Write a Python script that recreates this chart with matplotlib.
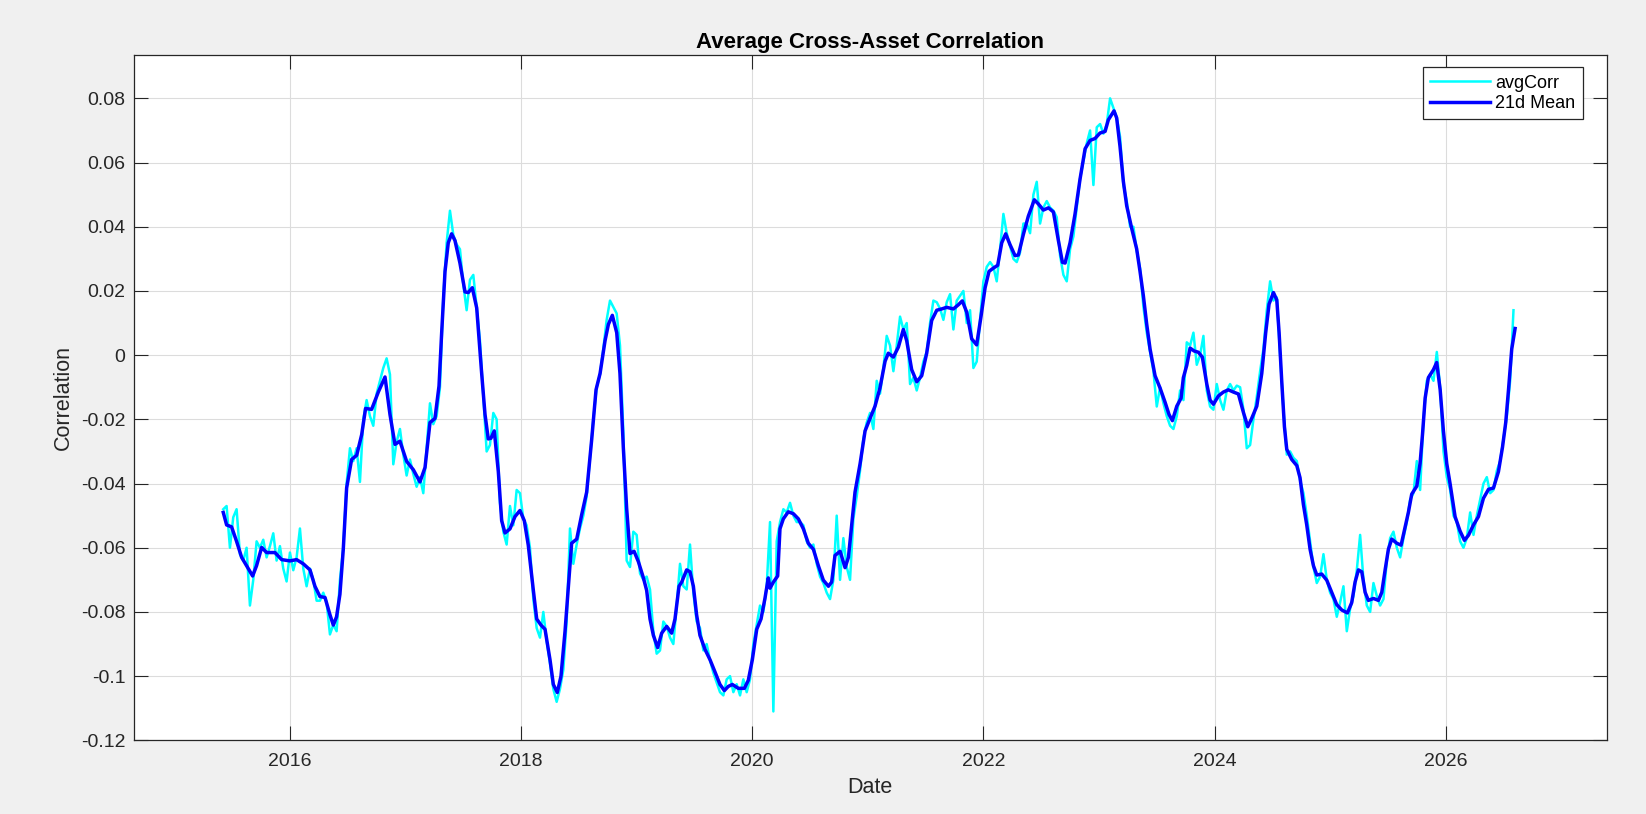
import matplotlib.pyplot as plt
import numpy as np

# 21d mean, (decimal year, value)
mean_pts = [
    (2015.425, -0.0490), (2015.454, -0.0529), (2015.497, -0.0535), (2015.540, -0.0580),
    (2015.584, -0.0630), (2015.627, -0.0656), (2015.679, -0.0688), (2015.713, -0.0656),
    (2015.757, -0.0599), (2015.800, -0.0615), (2015.872, -0.0615), (2015.930, -0.0637),
    (2016.002, -0.0641), (2016.059, -0.0637), (2016.117, -0.0650), (2016.175, -0.0669),
    (2016.218, -0.0720), (2016.261, -0.0752), (2016.305, -0.0755), (2016.348, -0.0809),
    (2016.377, -0.0841), (2016.405, -0.0815), (2016.434, -0.0745), (2016.463, -0.0605),
    (2016.492, -0.0414), (2016.535, -0.0325), (2016.579, -0.0312), (2016.622, -0.0248),
    (2016.656, -0.0166), (2016.708, -0.0169), (2016.766, -0.0115), (2016.824, -0.0068),
    (2016.867, -0.0185), (2016.910, -0.0278), (2016.953, -0.0268), (2017.011, -0.0331),
    (2017.069, -0.0357), (2017.126, -0.0395), (2017.170, -0.0350), (2017.213, -0.0210),
    (2017.256, -0.0197), (2017.291, -0.0096), (2017.314, 0.0070), (2017.343, 0.0261),
    (2017.371, 0.0350), (2017.400, 0.0378), (2017.429, 0.0357), (2017.472, 0.0287),
    (2017.516, 0.0197), (2017.544, 0.0195), (2017.579, 0.0210), (2017.617, 0.0147),
    (2017.660, -0.0057), (2017.689, -0.0185), (2017.717, -0.0261), (2017.740, -0.0259),
    (2017.769, -0.0236), (2017.804, -0.0363), (2017.833, -0.0516), (2017.862, -0.0554),
    (2017.905, -0.0541), (2017.948, -0.0503), (2017.991, -0.0484), (2018.029, -0.0516),
    (2018.063, -0.0592), (2018.107, -0.0733), (2018.136, -0.0822), (2018.173, -0.0841),
    (2018.208, -0.0854), (2018.251, -0.0949), (2018.280, -0.1026), (2018.314, -0.1051),
    (2018.346, -0.1000), (2018.381, -0.0860), (2018.410, -0.0720), (2018.438, -0.0586),
    (2018.482, -0.0573), (2018.525, -0.0497), (2018.568, -0.0427), (2018.612, -0.0261),
    (2018.649, -0.0108), (2018.684, -0.0057), (2018.727, 0.0045), (2018.756, 0.0096),
    (2018.790, 0.0124), (2018.828, 0.0070), (2018.856, -0.0057), (2018.885, -0.0287),
    (2018.914, -0.0478), (2018.943, -0.0618), (2018.978, -0.0611), (2019.015, -0.0643),
    (2019.059, -0.0694), (2019.087, -0.0733), (2019.116, -0.0822), (2019.145, -0.0873),
    (2019.182, -0.0911), (2019.217, -0.0866), (2019.260, -0.0845), (2019.303, -0.0866),
    (2019.332, -0.0822), (2019.367, -0.0720), (2019.390, -0.0707), (2019.433, -0.0669),
    (2019.462, -0.0675), (2019.491, -0.0720), (2019.519, -0.0809), (2019.548, -0.0873),
    (2019.592, -0.0917), (2019.635, -0.0949), (2019.678, -0.0987), (2019.721, -0.1026),
    (2019.759, -0.1045), (2019.793, -0.1032), (2019.828, -0.1026), (2019.880, -0.1038),
    (2019.932, -0.1038), (2019.966, -0.1013), (2020.001, -0.0949), (2020.039, -0.0854),
    (2020.076, -0.0822), (2020.110, -0.0758), (2020.139, -0.0694), (2020.154, -0.0726),
    (2020.183, -0.0707), (2020.220, -0.0688), (2020.240, -0.0541), (2020.269, -0.0510),
    (2020.312, -0.0488), (2020.356, -0.0494), (2020.399, -0.0510), (2020.442, -0.0541),
    (2020.485, -0.0586), (2020.529, -0.0605), (2020.572, -0.0656), (2020.615, -0.0701),
    (2020.659, -0.0720), (2020.687, -0.0707), (2020.716, -0.0624), (2020.760, -0.0611),
    (2020.803, -0.0662), (2020.832, -0.0630), (2020.860, -0.0529), (2020.889, -0.0427),
    (2020.933, -0.0338), (2020.976, -0.0236), (2021.019, -0.0197), (2021.062, -0.0159),
    (2021.105, -0.0102), (2021.149, -0.0019), (2021.177, 0.0006), (2021.221, -0.0006),
    (2021.264, 0.0025), (2021.307, 0.0080), (2021.336, 0.0045), (2021.379, -0.0045),
    (2021.423, -0.0083), (2021.466, -0.0064), (2021.509, 0.0006), (2021.552, 0.0108),
    (2021.596, 0.0140), (2021.639, 0.0144), (2021.682, 0.0149), (2021.740, 0.0144),
    (2021.783, 0.0157), (2021.817, 0.0169), (2021.855, 0.0134), (2021.898, 0.0051),
    (2021.941, 0.0032), (2021.979, 0.0121), (2022.014, 0.0210), (2022.048, 0.0261),
    (2022.085, 0.0271), (2022.123, 0.0280), (2022.158, 0.0350), (2022.192, 0.0378),
    (2022.230, 0.0344), (2022.273, 0.0310), (2022.302, 0.0312), (2022.345, 0.0376),
    (2022.388, 0.0433), (2022.440, 0.0484), (2022.475, 0.0471), (2022.518, 0.0452),
    (2022.562, 0.0459), (2022.605, 0.0446), (2022.648, 0.0357), (2022.683, 0.0289),
    (2022.706, 0.0287), (2022.749, 0.0350), (2022.792, 0.0440), (2022.835, 0.0548),
    (2022.879, 0.0643), (2022.922, 0.0669), (2022.965, 0.0675), (2023.008, 0.0692),
    (2023.052, 0.0697), (2023.080, 0.0733), (2023.129, 0.0761), (2023.152, 0.0739),
    (2023.181, 0.0650), (2023.210, 0.0541), (2023.239, 0.0465), (2023.282, 0.0395),
    (2023.325, 0.0331), (2023.354, 0.0261), (2023.383, 0.0185), (2023.412, 0.0096),
    (2023.441, 0.0019), (2023.484, -0.0064), (2023.527, -0.0102), (2023.571, -0.0147),
    (2023.605, -0.0185), (2023.634, -0.0204), (2023.672, -0.0159), (2023.709, -0.0134),
    (2023.729, -0.0070), (2023.758, -0.0032), (2023.787, 0.0022), (2023.822, 0.0013),
    (2023.859, 0.0009), (2023.893, -0.0006), (2023.931, -0.0089), (2023.960, -0.0140),
    (2023.989, -0.0153), (2024.032, -0.0127), (2024.075, -0.0115), (2024.118, -0.0108),
    (2024.162, -0.0115), (2024.205, -0.0121), (2024.248, -0.0178), (2024.286, -0.0223),
    (2024.320, -0.0197), (2024.364, -0.0159), (2024.407, -0.0057), (2024.441, 0.0070),
    (2024.470, 0.0159), (2024.508, 0.0195), (2024.537, 0.0172), (2024.557, 0.0070),
    (2024.580, -0.0083), (2024.603, -0.0223), (2024.623, -0.0293), (2024.666, -0.0325),
    (2024.710, -0.0344), (2024.738, -0.0382), (2024.767, -0.0465), (2024.796, -0.0529),
    (2024.825, -0.0605), (2024.854, -0.0656), (2024.883, -0.0685), (2024.926, -0.0682),
    (2024.969, -0.0701), (2025.012, -0.0739), (2025.055, -0.0777), (2025.099, -0.0794),
    (2025.148, -0.0803), (2025.185, -0.0771), (2025.214, -0.0707), (2025.243, -0.0669),
    (2025.272, -0.0675), (2025.301, -0.0739), (2025.329, -0.0764), (2025.373, -0.0758),
    (2025.416, -0.0764), (2025.445, -0.0739), (2025.474, -0.0669), (2025.502, -0.0605),
    (2025.531, -0.0573), (2025.575, -0.0586), (2025.612, -0.0592), (2025.647, -0.0535),
    (2025.675, -0.0490), (2025.704, -0.0433), (2025.748, -0.0408), (2025.776, -0.0338),
    (2025.797, -0.0248), (2025.820, -0.0134), (2025.848, -0.0070), (2025.892, -0.0045),
    (2025.920, -0.0023), (2025.950, -0.0108), (2025.978, -0.0236), (2026.007, -0.0338),
    (2026.036, -0.0401), (2026.079, -0.0503), (2026.122, -0.0548), (2026.160, -0.0577),
    (2026.195, -0.0561), (2026.238, -0.0529), (2026.281, -0.0503), (2026.324, -0.0446),
    (2026.368, -0.0418), (2026.411, -0.0414), (2026.454, -0.0363), (2026.489, -0.0287),
    (2026.517, -0.0210), (2026.541, -0.0108), (2026.569, 0.0019), (2026.598, 0.0083),
]

# raw avgCorr, read on an even date grid starting mid-2015
raw_start = 2015.425
raw_step = 0.028835
raw_v = [
    # 2015.4 - 2017.3
    -0.0480, -0.0470, -0.0600, -0.0505, -0.0480, -0.0620, -0.0640, -0.0600, -0.0780, -0.0700,
    -0.0580, -0.0600, -0.0575, -0.0630, -0.0595, -0.0555, -0.0640, -0.0595, -0.0665, -0.0705,
    -0.0615, -0.0670, -0.0630, -0.0540, -0.0665, -0.0720, -0.0665, -0.0700, -0.0765, -0.0765,
    -0.0740, -0.0770, -0.0870, -0.0840, -0.0860, -0.0700, -0.0600, -0.0400, -0.0290, -0.0330,
    -0.0290, -0.0395, -0.0200, -0.0140, -0.0190, -0.0220, -0.0120, -0.0080, -0.0040, -0.0010,
    -0.0060, -0.0340, -0.0270, -0.0230, -0.0310, -0.0375, -0.0325, -0.0370, -0.0410, -0.0380,
    -0.0430, -0.0290, -0.0150, -0.0215, -0.0190, -0.0100,
    # 2017.3 - 2019.2
    0.0180, 0.0350, 0.0450, 0.0375, 0.0345, 0.0330, 0.0220, 0.0140, 0.0235, 0.0250,
    0.0150, 0.0045, -0.0130, -0.0300, -0.0280, -0.0180, -0.0200, -0.0460, -0.0550, -0.0590,
    -0.0470, -0.0530, -0.0420, -0.0430, -0.0510, -0.0530, -0.0600, -0.0760, -0.0850, -0.0880,
    -0.0800, -0.0890, -0.0960, -0.1040, -0.1080, -0.1040, -0.0980, -0.0830, -0.0540, -0.0650,
    -0.0590, -0.0540, -0.0500, -0.0440, -0.0320, -0.0200, -0.0100, -0.0060, 0.0020, 0.0110,
    0.0170, 0.0150, 0.0130, 0.0030, -0.0240, -0.0640, -0.0660, -0.0550, -0.0560, -0.0680,
    -0.0700, -0.0690, -0.0730, -0.0860, -0.0930, -0.0920,
    # 2019.2 - 2021.1
    -0.0830, -0.0845, -0.0880, -0.0900, -0.0780, -0.0650, -0.0720, -0.0730, -0.0590, -0.0740,
    -0.0830, -0.0850, -0.0920, -0.0900, -0.0950, -0.0990, -0.1020, -0.1050, -0.1060, -0.1010,
    -0.1000, -0.1050, -0.1025, -0.1060, -0.1010, -0.1050, -0.1010, -0.0900, -0.0840, -0.0780,
    -0.0800, -0.0720, -0.0520, -0.1110, -0.0580, -0.0520, -0.0480, -0.0490, -0.0460, -0.0500,
    -0.0520, -0.0520, -0.0530, -0.0580, -0.0600, -0.0590, -0.0650, -0.0690, -0.0710, -0.0740,
    -0.0760, -0.0700, -0.0500, -0.0700, -0.0570, -0.0660, -0.0700, -0.0510, -0.0440, -0.0360,
    -0.0260, -0.0210, -0.0180, -0.0230, -0.0080, -0.0120,
    # 2021.1 - 2023.0
    -0.0040, 0.0060, 0.0030, -0.0050, 0.0030, 0.0120, 0.0080, 0.0100, -0.0090, -0.0070,
    -0.0110, -0.0070, -0.0020, 0.0010, 0.0100, 0.0170, 0.0165, 0.0145, 0.0110, 0.0165,
    0.0190, 0.0080, 0.0170, 0.0185, 0.0200, 0.0100, 0.0140, -0.0040, -0.0020, 0.0110,
    0.0230, 0.0275, 0.0290, 0.0275, 0.0230, 0.0330, 0.0440, 0.0380, 0.0340, 0.0300,
    0.0290, 0.0320, 0.0410, 0.0410, 0.0380, 0.0500, 0.0540, 0.0410, 0.0460, 0.0480,
    0.0460, 0.0450, 0.0430, 0.0310, 0.0250, 0.0230, 0.0330, 0.0370, 0.0460, 0.0550,
    0.0605, 0.0660, 0.0700, 0.0530, 0.0710, 0.0720,
    # 2023.0 - 2024.9
    0.0690, 0.0720, 0.0800, 0.0770, 0.0740, 0.0680, 0.0530, 0.0480, 0.0400, 0.0400,
    0.0325, 0.0270, 0.0150, 0.0070, 0.0010, -0.0050, -0.0160, -0.0100, -0.0150, -0.0190,
    -0.0220, -0.0230, -0.0190, -0.0110, -0.0140, 0.0040, 0.0030, 0.0070, -0.0030, 0.0000,
    0.0060, -0.0110, -0.0160, -0.0170, -0.0090, -0.0140, -0.0170, -0.0110, -0.0090, -0.0110,
    -0.0095, -0.0100, -0.0170, -0.0290, -0.0280, -0.0200, -0.0130, -0.0050, 0.0020, 0.0140,
    0.0230, 0.0170, 0.0180, 0.0000, -0.0170, -0.0310, -0.0300, -0.0320, -0.0330, -0.0390,
    -0.0430, -0.0500, -0.0580, -0.0660, -0.0710, -0.0690,
    # 2024.9 - 2026.6
    -0.0620, -0.0700, -0.0740, -0.0760, -0.0815, -0.0770, -0.0720, -0.0860, -0.0790, -0.0750,
    -0.0670, -0.0560, -0.0700, -0.0780, -0.0800, -0.0710, -0.0750, -0.0780, -0.0760, -0.0640,
    -0.0570, -0.0550, -0.0600, -0.0630, -0.0570, -0.0520, -0.0450, -0.0430, -0.0330, -0.0420,
    -0.0200, -0.0080, -0.0060, -0.0080, 0.0010, -0.0100, -0.0300, -0.0380, -0.0420, -0.0500,
    -0.0520, -0.0580, -0.0600, -0.0570, -0.0490, -0.0560, -0.0500, -0.0450, -0.0400, -0.0380,
    -0.0430, -0.0420, -0.0360, -0.0330, -0.0260, -0.0190, -0.0080, 0.0140,
]

year_ticks = [2016, 2018, 2020, 2022, 2024, 2026]
corr_ticks = [-0.12, -0.10, -0.08, -0.06, -0.04, -0.02, 0.0, 0.02, 0.04, 0.06, 0.08]

raw_t = raw_start + raw_step * np.arange(len(raw_v))
mean_t, mean_v = np.array(mean_pts).T

plt.rcParams['font.family'] = ['Liberation Sans', 'DejaVu Sans']
dark = '#262626'

fig = plt.figure(figsize=(16.46, 8.14), dpi=100, facecolor='#f0f0f0')
ax = fig.add_axes([0.0812, 0.0905, 0.8949, 0.8415])
ax.set_facecolor('white')

ax.plot(raw_t, raw_v, color='#00ffff', lw=1.8, label='avgCorr')
ax.plot(mean_t, mean_v, color='#0000ff', lw=2.5, label='21d Mean')

ax.set_xlim(2014.65, 2027.39)
ax.set_ylim(-0.12, 0.0934)
ax.set_xticks(year_ticks)
ax.set_xticklabels([str(y) for y in year_ticks])
ax.set_yticks(corr_ticks)
ax.set_yticklabels([f'{round(v, 2):g}' for v in corr_ticks])

ax.grid(True, color='#dcdcdc', lw=0.8)
ax.set_axisbelow(True)
for s in ax.spines.values():
    s.set_color(dark)
    s.set_linewidth(0.9)
ax.tick_params(direction='in', length=10, width=0.8, color=dark, labelcolor=dark,
               labelsize=14, top=True, right=True)
ax.tick_params(axis='x', pad=9)
ax.tick_params(axis='y', pad=6)

ax.set_xlabel('Date', fontsize=15.5, color=dark, labelpad=5)
ax.set_ylabel('Correlation', fontsize=15.5, color=dark, labelpad=5)
ax.set_title('Average Cross-Asset Correlation', fontsize=16, fontweight='bold', pad=5.5)

leg = ax.legend(loc='upper right', bbox_to_anchor=(0.9837, 0.9825), borderaxespad=0,
                fontsize=13, fancybox=False, framealpha=1, edgecolor=dark,
                handlelength=3.3, handletextpad=0.3, labelspacing=0.2, borderpad=0.4)
leg.get_frame().set_linewidth(0.9)

fig.savefig('out.png', dpi=100, facecolor=fig.get_facecolor())
plt.close()
